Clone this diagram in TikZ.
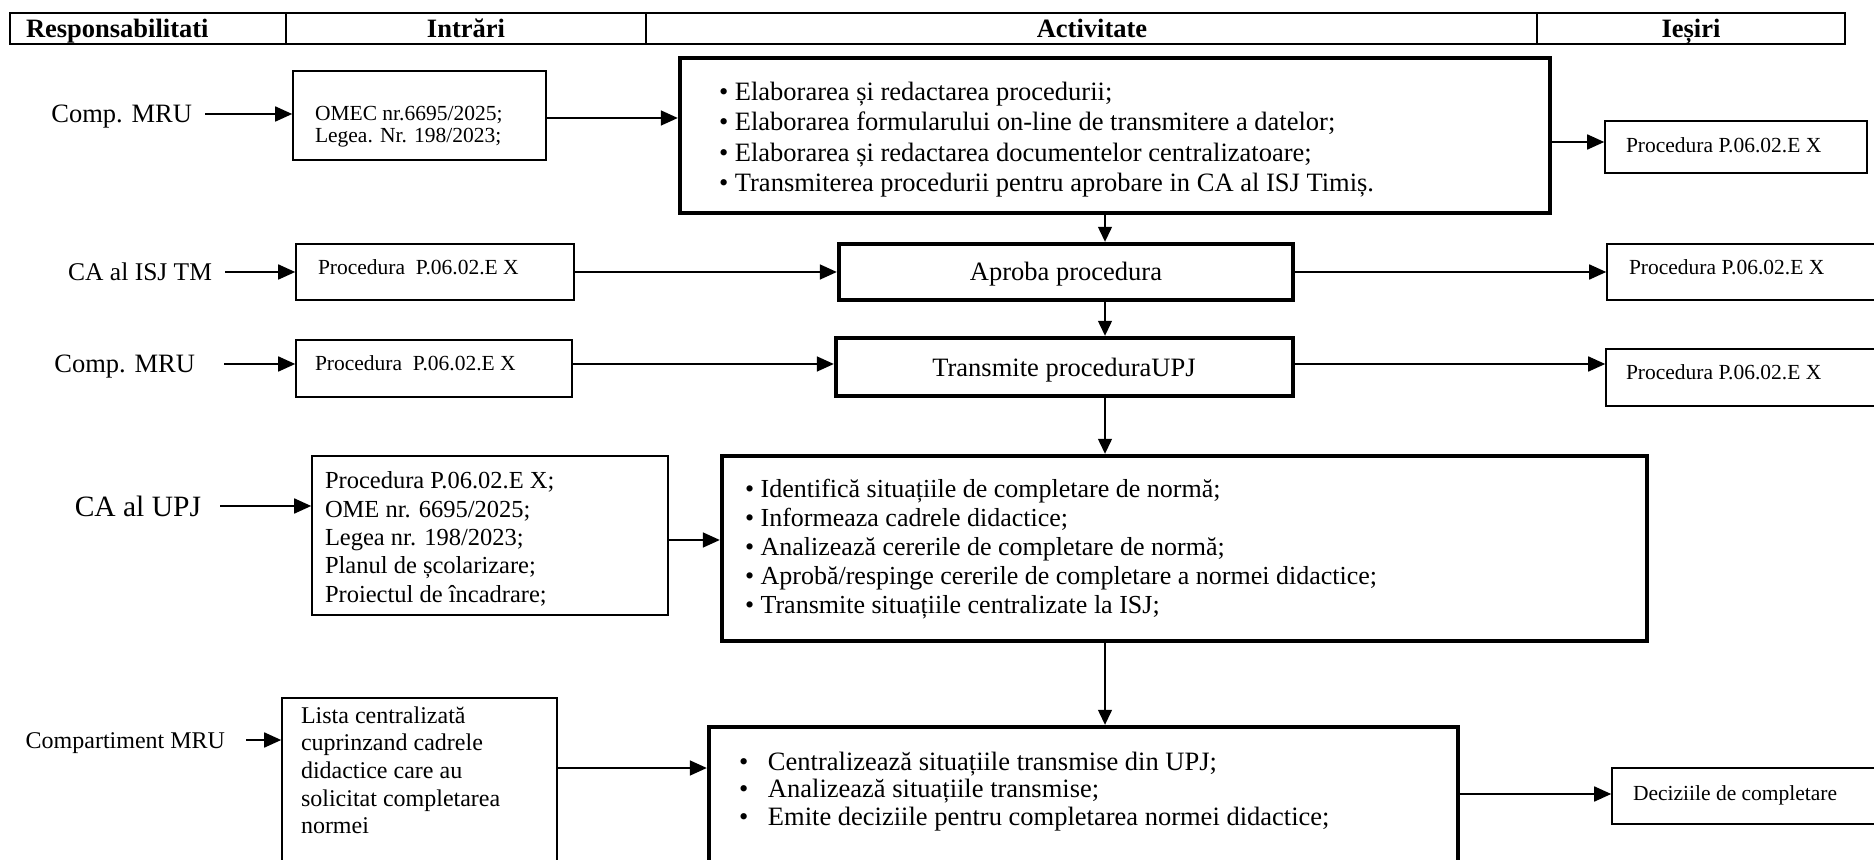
\documentclass[tikz,border=0pt]{standalone}
\usepackage{fontspec}
\setmainfont{Liberation Serif}
\usetikzlibrary{arrows.meta,fit}
\newcommand\FBig{\fontsize{13.25pt}{15.15pt}\selectfont}
\newcommand\FAct{\fontsize{13pt}{14.4pt}\selectfont}
\newcommand\FActB{\fontsize{13.25pt}{13.9pt}\selectfont}
\newcommand\FMid{\fontsize{12.25pt}{14.15pt}\selectfont}
\newcommand\FLow{\fontsize{12pt}{13.85pt}\selectfont}
\newcommand\FSml{\fontsize{10.75pt}{10.75pt}\selectfont}
\newcommand\Rows[1]{\vtop{\halign{##\hfil\cr#1\crcr}}}
\begin{document}
\begin{tikzpicture}[x=0.5pt,y=-0.5pt,
  hcell/.style={draw, line width=1.1pt, inner sep=0pt},
  thin/.style={draw, line width=0.8pt, inner sep=0pt},
  thick/.style={draw, line width=2.2pt, inner sep=0pt},
  txt/.style={inner sep=0pt, outer sep=0pt, anchor=base west},
  ctxt/.style={inner sep=0pt, outer sep=0pt, anchor=base},
  lab/.style={inner ysep=0pt, outer sep=0pt, anchor=base east, font=\FBig},
  arr/.style={-{Triangle[length=8.5pt,width=7.5pt]}, line width=0.85pt},
  varr/.style={-{Triangle[length=7.5pt,width=7pt]}, line width=0.65pt}]
\clip (0,0) rectangle (1874,860);

% header
\node[hcell, fit={(10,13) (286,44)}] (hdr1) {};
\node[hcell, fit={(286,13) (646,44)}] (hdr2) {};
\node[hcell, fit={(646,13) (1537,44)}] (hdr3) {};
\node[hcell, fit={(1537,13) (1845,44)}] (hdr4) {};
\node[txt, font=\bfseries\FBig] (hdr1t) at (26,37.25) {Responsabilitati};
\node[ctxt, font=\bfseries\FBig] (hdr2t) at (466,37.25) {Intrări};
\node[ctxt, font=\bfseries\FBig] (hdr3t) at (1092,37.25) {Activitate};
\node[ctxt, font=\bfseries\FBig] (hdr4t) at (1691,37.25) {Ieșiri};

% row coordinates
\coordinate (vx) at (1105,0);
\coordinate (rA1) at (0,114);
\coordinate (rB1) at (0,118);
\coordinate (rC1) at (0,142);
\coordinate (r2) at (0,272);
\coordinate (r3) at (0,364);
\coordinate (rA4) at (0,506);
\coordinate (rB4) at (0,540);
\coordinate (rA5) at (0,740);
\coordinate (rB5) at (0,768);
\coordinate (rC5) at (0,794);

% labels
\node[lab, inner xsep=6.5pt] (lab1) at (205,123) {Comp. MRU};
\node[lab, inner xsep=6.5pt, font=\fontsize{12.75pt}{14pt}\selectfont] (lab2) at (225,280.5) {CA al ISJ TM};
\node[lab, inner xsep=14.5pt] (lab3) at (224,373) {Comp. MRU};
\node[lab, inner xsep=9.5pt, font=\fontsize{14.75pt}{16pt}\selectfont] (lab4) at (220,517) {CA al UPJ};
\node[lab, inner xsep=10.5pt, font=\FLow] (lab5) at (246,748) {Compartiment MRU};

% input boxes
\node[thin, fit={(293,71) (546,160)}] (in1) {};
\node[thin, fit={(296,244) (574,300)}] (in2) {};
\node[thin, fit={(296,340) (572,397)}] (in3) {};
\node[thin, fit={(312,456) (668,615)}] (in4) {};
\node[thin, fit={(282,698) (557,900)}] (in5) {};

\node[txt, font=\FSml] (in1t) at (315,121) {\Rows{OMEC nr.6695/2025;\cr Legea. Nr. 198/2023;}};
\node[txt, font=\FSml] (in2t) at (318,275) {Procedura\ \ P.06.02.E X};
\node[txt, font=\FSml] (in3t) at (315,371) {Procedura\ \ P.06.02.E X};
\node[txt, font=\FMid] (in4t) at (325,489) {\Rows{Procedura P.06.02.E X;\cr OME nr. 6695/2025;\cr Legea nr. 198/2023;\cr Planul de școlarizare;\cr Proiectul de încadrare;}};
\node[txt, font=\FLow] (in5t) at (301,723) {\Rows{Lista centralizată\cr cuprinzand cadrele\cr didactice care au\cr solicitat completarea\cr normei}};

% activity boxes
\node[thick, fit={(680,58) (1550,213)}] (main1) {};
\node[thick, fit={(839,244) (1293,300)}] (aproba) {};
\node[thick, fit={(836,338) (1293,396)}] (transm) {};
\node[thick, fit={(722,456) (1647,641)}] (main4) {};
\node[thick, fit={(709,727) (1458,900)}] (main5) {};

\node[ctxt, font=\FBig] (aprobat) at (1066,281) {Aproba procedura};
\node[ctxt, font=\FBig] (transmt) at (1064,377) {Transmite proceduraUPJ};
\node[txt, font=\FBig] (main1t) at (719,100.5) {\Rows{• Elaborarea și redactarea procedurii;\cr • Elaborarea formularului on-line de transmitere a datelor;\cr • Elaborarea și redactarea documentelor centralizatoare;\cr • Transmiterea procedurii pentru aprobare in CA al ISJ Timiș.}};
\node[txt, font=\FAct] (main4t) at (745,498) {\Rows{• Identifică situațiile de completare de normă;\cr • Informeaza cadrele didactice;\cr • Analizează cererile de completare de normă;\cr • Aprobă/respinge cererile de completare a normei didactice;\cr • Transmite situațiile centralizate la ISJ;}};
\node[txt, font=\FActB] (main5t) at (739,770) {\Rows{\makebox[14.5pt][l]{•}Centralizează situațiile transmise din UPJ;\cr \makebox[14.5pt][l]{•}Analizează situațiile transmise;\cr \makebox[14.5pt][l]{•}Emite deciziile pentru completarea normei didactice;}};

% output boxes
\node[thin, fit={(1605,121) (1867,173)}] (out1) {};
\node[thin, fit={(1607,244) (1900,300)}] (out2) {};
\node[thin, fit={(1606,349) (1900,406)}] (out3) {};
\node[thin, fit={(1612,768) (1900,824)}] (out6) {};
\node[txt, font=\FSml] (out1t) at (1626,153) {Procedura P.06.02.E X};
\node[txt, font=\FSml] (out2t) at (1629,275) {Procedura P.06.02.E X};
\node[txt, font=\FSml] (out3t) at (1626,380) {Procedura P.06.02.E X};
\node[txt, font=\FSml] (out6t) at (1633,800) {Deciziile de completare};

% arrows: responsibles -> inputs
\draw[arr] (lab1.east |- rA1) -- (in1.west |- rA1);
\draw[arr] (lab2.east |- r2) -- (in2.west |- r2);
\draw[arr] (lab3.east |- r3) -- (in3.west |- r3);
\draw[arr] (lab4.east |- rA4) -- (in4.west |- rA4);
\draw[arr] (lab5.east |- rA5) -- (in5.west |- rA5);

% inputs -> activities
\draw[arr] (in1.east |- rB1) -- (main1.west |- rB1);
\draw[arr] (in2.east |- r2) -- (aproba.west |- r2);
\draw[arr] (in3.east |- r3) -- (transm.west |- r3);
\draw[arr] (in4.east |- rB4) -- (main4.west |- rB4);
\draw[arr] (in5.east |- rB5) -- (main5.west |- rB5);

% activities -> outputs
\draw[arr] (main1.east |- rC1) -- (out1.west |- rC1);
\draw[arr] (aproba.east |- r2) -- (out2.west |- r2);
\draw[arr] (transm.east |- r3) -- (out3.west |- r3);
\draw[arr] (main5.east |- rC5) -- (out6.west |- rC5);

% vertical flow
\draw[varr] (main1.south -| vx) -- (aproba.north -| vx);
\draw[varr] (aproba.south -| vx) -- (transm.north -| vx);
\draw[varr] (transm.south -| vx) -- (main4.north -| vx);
\draw[varr] (main4.south -| vx) -- (main5.north -| vx);
\end{tikzpicture}
\end{document}
